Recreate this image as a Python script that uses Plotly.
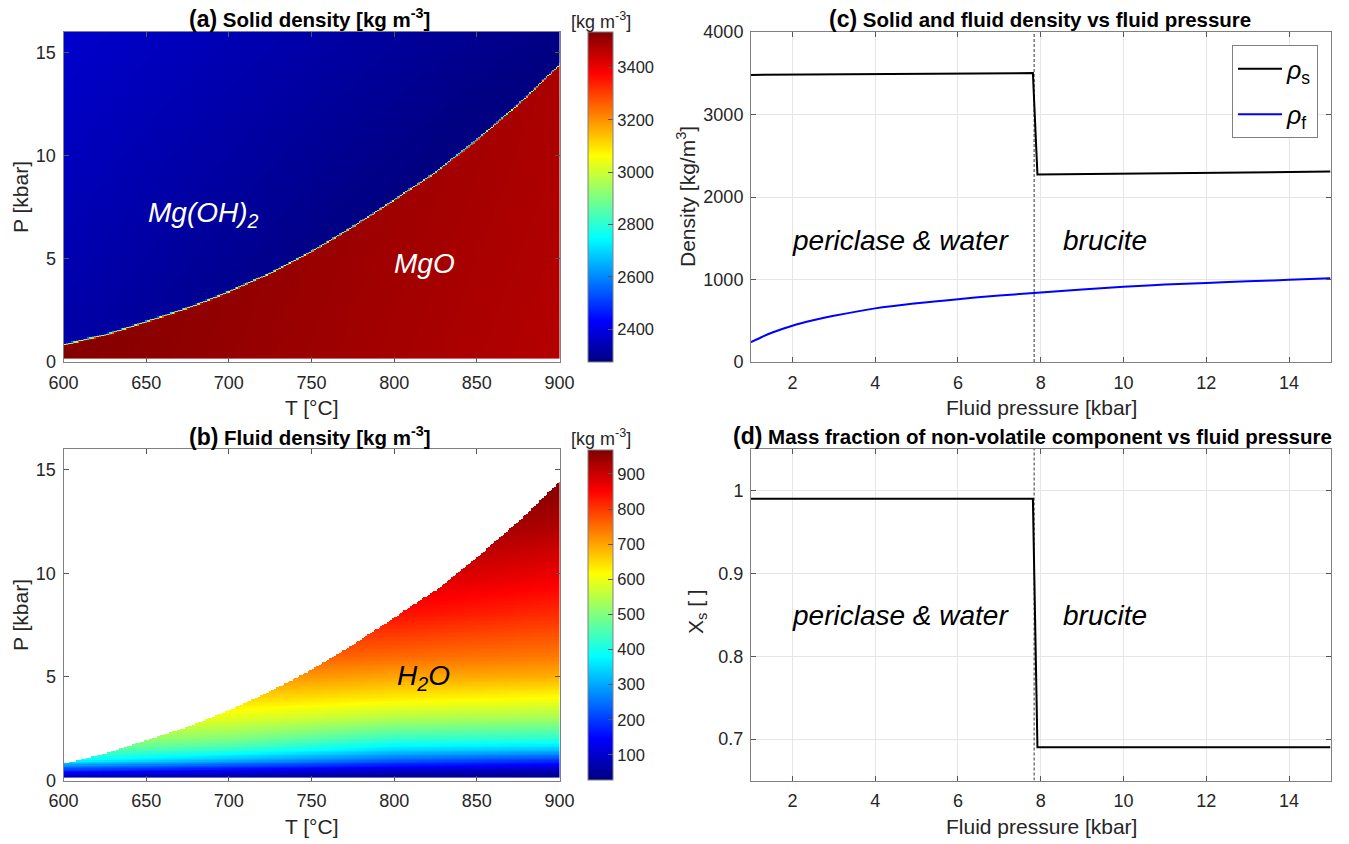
import numpy as np
import plotly.graph_objects as go

# ---------------- data ----------------
# Brucite / periclase equilibrium boundary (panel a/b)
boundary_T = [600, 625, 650, 675, 700, 725, 750, 775, 800, 825, 850, 875, 900]
boundary_P = [0.81, 1.30, 1.94, 2.60, 3.40, 4.30, 5.35, 6.56, 7.86, 9.20, 10.78, 12.50, 14.42]

# Solid densities at corners of the T-P window (T = 600, 900 ; P = 0, 16)
corner_T = [600, 900]
corner_P = [0, 16]
rho_brucite_corners = [[2320, 2370], [2200, 2280]]    # [T][P]
rho_periclase_corners = [[3530, 3545], [3470, 3485]]  # [T][P]

# Fluid density read at pressure levels for a few temperatures
fluid_P_levels = [0.1, 0.5, 1.0, 1.5, 2.0, 3.0, 4.0, 5.0, 6.0, 8.0, 10.0, 12.0, 14.5]
fluid_T_nodes = [600, 700, 800, 900]
rho_f_T600 = [40, 190, 400, 480, 540, 630, 700, 760, 805, 875, 935, 980, 1025]
rho_f_T700 = [35, 140, 320, 430, 500, 590, 660, 725, 775, 850, 915, 960, 1010]
rho_f_T800 = [30, 100, 240, 350, 430, 545, 635, 700, 755, 838, 900, 950, 995]
rho_f_T900 = [29, 80, 200, 330, 420, 530, 615, 690, 740, 810, 870, 920, 968]

# Panel c : densities vs fluid pressure
rho_s_P = [1.0, 7.81, 7.92, 15.0]
rho_s = [3480, 3502, 2272, 2308]
rho_f_P = [1.0, 1.25, 1.5, 2.0, 2.5, 3.0, 4.0, 5.0, 6.0, 7.0, 8.0, 9.0, 10.0, 11.0, 12.0, 13.0, 14.0, 15.0]
rho_f = [240, 300, 355, 440, 505, 560, 650, 712, 762, 805, 843, 880, 912, 938, 958, 978, 996, 1014]

# Panel d : mass fraction of non-volatile component
xs_P = [1.0, 7.81, 7.92, 15.0]
xs = [0.99, 0.99, 0.69, 0.69]

transition_P = 7.84

# ---------------- grids ----------------
T = np.arange(600.0, 900.5, 1.0)
dP = 0.064
P = np.arange(0.18, 16.0, dP)
TT, PP = np.meshgrid(T, P)
Pb = np.interp(T, boundary_T, boundary_P)[None, :]


def bilinear(c):
    c = np.asarray(c, float)
    wt = (TT - corner_T[0]) / (corner_T[1] - corner_T[0])
    wp = (PP - corner_P[0]) / (corner_P[1] - corner_P[0])
    return (c[0, 0] * (1 - wt) * (1 - wp) + c[0, 1] * (1 - wt) * wp
            + c[1, 0] * wt * (1 - wp) + c[1, 1] * wt * wp)


frac_per = np.clip((Pb - PP) / (2 * dP) + 0.5, 0, 1)
rho_solid = frac_per * bilinear(rho_periclase_corners) + (1 - frac_per) * bilinear(rho_brucite_corners)

cols = np.array([np.interp(P, fluid_P_levels, r) for r in (rho_f_T600, rho_f_T700, rho_f_T800, rho_f_T900)])
rho_fluid = np.empty_like(PP)
for j, t in enumerate(T):
    rho_fluid[:, j] = [np.interp(t, fluid_T_nodes, cols[:, i]) for i in range(len(P))]
rho_fluid = np.where(PP <= Pb, rho_fluid, np.nan)

jet = [[0.0, 'rgb(0,0,128)'], [0.125, 'rgb(0,0,255)'], [0.375, 'rgb(0,255,255)'],
       [0.625, 'rgb(255,255,0)'], [0.875, 'rgb(255,0,0)'], [1.0, 'rgb(128,0,0)']]

W, H = 1349, 844
FONT = "Liberation Sans, Arial, sans-serif"
TXT = '#262626'


def px(x):
    return x / W


def py(y):
    return 1 - y / H


# plot boxes (pixels)
AX_L, AX_R = 63.5, 559.5
CX_L, CX_R = 751, 1330.5
TOP1, BOT1 = 32, 362
TOP2, BOT2 = 449, 780.5

fig = go.Figure()

cb_common = dict(thickness=25, len=(BOT1 - TOP1) / H, lenmode='fraction', x=px(588), xanchor='left',
                 xpad=0, ypad=0,
                 outlinecolor='#808080', outlinewidth=1, ticks='inside', ticklen=5, tickcolor='#555',
                 tickfont=dict(family=FONT, size=16.5, color=TXT), yanchor='middle')

fig.add_trace(go.Heatmap(x=T, y=P, z=rho_solid, colorscale=jet, zmin=2275, zmax=3535,
                         xaxis='x', yaxis='y', zsmooth=False, hoverinfo='skip', showlegend=False,
                         colorbar=dict(**cb_common, y=py((TOP1 + BOT1) / 2),
                                       tickvals=[2400, 2600, 2800, 3000, 3200, 3400])))
fig.add_trace(go.Heatmap(x=T, y=P, z=rho_fluid, colorscale=jet, zmin=29, zmax=969,
                         xaxis='x2', yaxis='y2', zsmooth=False, hoverinfo='skip', showlegend=False,
                         colorbar=dict(**cb_common, y=py((TOP2 + BOT2) / 2),
                                       tickvals=[100, 200, 300, 400, 500, 600, 700, 800, 900])))

fig.add_trace(go.Scatter(x=rho_s_P, y=rho_s, mode='lines', line=dict(color='black', width=2),
                         name='<i>ρ</i><sub>s</sub>', legendgroup='s', xaxis='x3', yaxis='y3'))
fig.add_trace(go.Scatter(x=rho_f_P, y=rho_f, mode='lines', line=dict(color='#0000ff', width=2, shape='spline'),
                         name='<i>ρ</i><sub>f</sub>', legendgroup='f', xaxis='x3', yaxis='y3'))
fig.add_trace(go.Scatter(x=xs_P, y=xs, mode='lines', line=dict(color='black', width=2),
                         showlegend=False, xaxis='x4', yaxis='y4'))
for xa, ya, yr in (('x3', 'y3', [0, 4000]), ('x4', 'y4', [0.65, 1.05])):
    fig.add_trace(go.Scatter(x=[transition_P, transition_P], y=yr, mode='lines',
                             line=dict(color='black', width=0.8, dash='3px,2px'),
                             showlegend=False, xaxis=xa, yaxis=ya, hoverinfo='skip'))

axis_common = dict(showline=True, linecolor='#808080', linewidth=1, mirror='allticks', ticks='inside',
                   ticklen=5, tickcolor='#555', zeroline=False, automargin=False,
                   tickfont=dict(family=FONT, size=18, color=TXT))
xcommon = dict(axis_common, ticklabelstandoff=4)
ycommon = dict(axis_common, ticklabelstandoff=3)

fig.update_layout(
    width=W, height=H, margin=dict(l=0, r=0, t=0, b=0, pad=0, autoexpand=False),
    paper_bgcolor='white', plot_bgcolor='white',
    font=dict(family=FONT, color=TXT),
    xaxis=dict(xcommon, domain=[px(AX_L), px(AX_R)], range=[600, 900], tickvals=[600, 650, 700, 750, 800, 850, 900],
               showgrid=False, anchor='y'),
    yaxis=dict(ycommon, domain=[py(BOT1), py(TOP1)], range=[0, 16], tickvals=[0, 5, 10, 15],
               showgrid=False, anchor='x'),
    xaxis2=dict(xcommon, domain=[px(AX_L), px(AX_R)], range=[600, 900], tickvals=[600, 650, 700, 750, 800, 850, 900],
                showgrid=False, anchor='y2'),
    yaxis2=dict(ycommon, domain=[py(BOT2), py(TOP2)], range=[0, 16], tickvals=[0, 5, 10, 15],
                showgrid=False, anchor='x2'),
    xaxis3=dict(xcommon, domain=[px(CX_L), px(CX_R)], range=[1, 15], tickvals=[2, 4, 6, 8, 10, 12, 14],
                showgrid=True, gridcolor='#e6e6e6', anchor='y3'),
    yaxis3=dict(ycommon, domain=[py(BOT1), py(TOP1)], range=[0, 4000], tickvals=[0, 1000, 2000, 3000, 4000],
                showgrid=True, gridcolor='#e6e6e6', anchor='x3'),
    xaxis4=dict(xcommon, domain=[px(CX_L), px(CX_R)], range=[1, 15], tickvals=[2, 4, 6, 8, 10, 12, 14],
                showgrid=True, gridcolor='#e6e6e6', anchor='y4'),
    yaxis4=dict(ycommon, domain=[py(BOT2), py(TOP2)], range=[0.65, 1.05], tickvals=[0.7, 0.8, 0.9, 1.0],
                ticktext=['0.7', '0.8', '0.9', '1'],
                showgrid=True, gridcolor='#e6e6e6', anchor='x4'),
    legend=dict(x=px(1318), xanchor='right', y=py(45), yanchor='top', bgcolor='white',
                bordercolor='#808080', borderwidth=1, font=dict(family=FONT, size=25, color='black'),
                itemwidth=44, tracegroupgap=10),
    showlegend=True,
)


def ann(x, y, text, size, color=TXT, angle=0):
    fig.add_annotation(x=px(x), y=py(y), xref='paper', yref='paper', showarrow=False,
                       xanchor='center', yanchor='middle', textangle=angle,
                       text=text, font=dict(family=FONT, size=size, color=color))


def title(x, y, lab, txt):
    ann(x, y, f'<b><span style="font-size:23px">{lab}</span> {txt}</b>', 20.5, 'black')


title(309, 19, '(a)', 'Solid density [kg m<sup>-3</sup>]')
title(309, 436, '(b)', 'Fluid density [kg m<sup>-3</sup>]')
title(1040, 19, '(c)', 'Solid and fluid density vs fluid pressure')
title(1032, 436, '(d)', 'Mass fraction of non-volatile component vs fluid pressure')

for y in (20, 437):
    ann(601, y, '[kg m<sup>-3</sup>]', 18)

# axis titles
for y in (407, 826):
    ann(311.5, y, 'T [°C]', 21)
    ann(1041, y, 'Fluid pressure [kbar]', 21)
ann(20, 197, 'P [kbar]', 21, angle=-90)
ann(20, 615, 'P [kbar]', 21, angle=-90)
ann(686, 197, 'Density [kg/m<sup>3</sup>]', 21, angle=-90)
ann(697, 612, 'X<sub>s</sub> [ ]', 21, angle=-90)

# region labels
ann(203, 214, '<i>Mg(OH)<sub>2</sub></i>', 28, 'white')
ann(425, 263, '<i>MgO</i>', 28, 'white')
ann(423, 677, '<i>H<sub>2</sub>O</i>', 28, 'black')
for y in (241, 615):
    ann(900, y, '<i>periclase &amp; water</i>', 28, 'black')
    ann(1105, y, '<i>brucite</i>', 28, 'black')

fig.write_html("out.html", post_script="document.body.style.margin='0';document.body.style.padding='0';")
